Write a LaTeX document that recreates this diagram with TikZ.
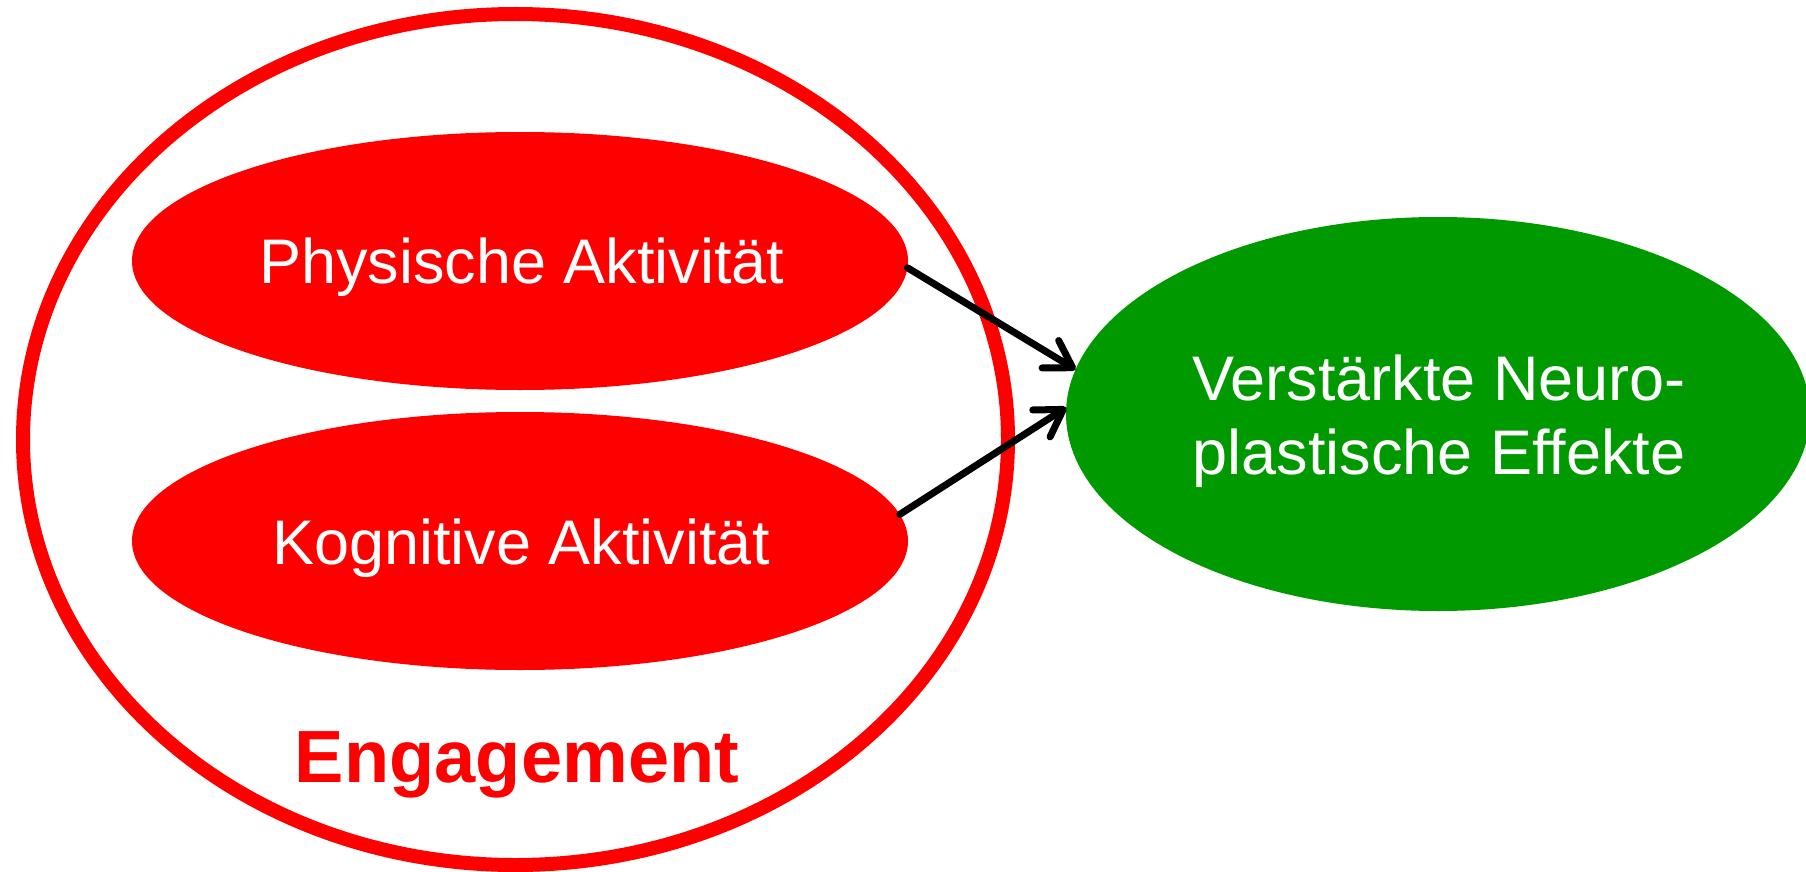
\documentclass[tikz,border=0pt]{standalone}
\usepackage{fontspec}
\setmainfont{Liberation Sans}
\usetikzlibrary{shapes.geometric,arrows.meta}
\definecolor{engred}{HTML}{FF0000}
\definecolor{neurogreen}{HTML}{009900}
\tikzset{
  inner/.style={ellipse,fill=engred,inner sep=0pt,outer sep=0pt,minimum width=776pt,minimum height=258pt},
  whitetext/.style={text=white,font=\fontsize{63}{74.5}\selectfont,inner sep=0pt,anchor=base},
  conn/.style={draw=black,line width=7pt,line cap=round,
    -{Straight Barb[length=26pt,width=32pt,line cap=round,line join=round]}}
}
\begin{document}
\begin{tikzpicture}[x=1pt,y=-1pt]
\useasboundingbox (0,0) rectangle (1806,872);
\node[ellipse,draw=engred,line width=14pt,inner sep=0pt,outer sep=0pt,
  minimum width=985pt,minimum height=851pt] (engage) at (515.5,439.5) {};
\node[inner] (phys) at (520,261) {};
\node[inner] (kog) at (520,541) {};
\node[ellipse,fill=neurogreen,inner sep=0pt,outer sep=0pt,minimum width=744pt,minimum height=394pt] (neuro) at (1438,414) {};
\node[whitetext] (tphys) at (522,283) {Physische Aktivität};
\node[whitetext] (tkog) at (521,564) {Kognitive Aktivität};
\node[text=white,font=\fontsize{63}{74.5}\selectfont,inner sep=0pt,align=center] (tneuro) at (1439,421) {Verstärkte Neuro-\\plastische Effekte};
\node[text=engred,font=\bfseries\fontsize{74}{80}\selectfont,inner sep=0pt,anchor=base] (teng) at (517,782) {Engagement};
\draw[conn] (phys.-1.8) -- (neuro.173.9);
\draw[conn] (kog.4.6) -- (neuro.179);
\end{tikzpicture}
\end{document}
